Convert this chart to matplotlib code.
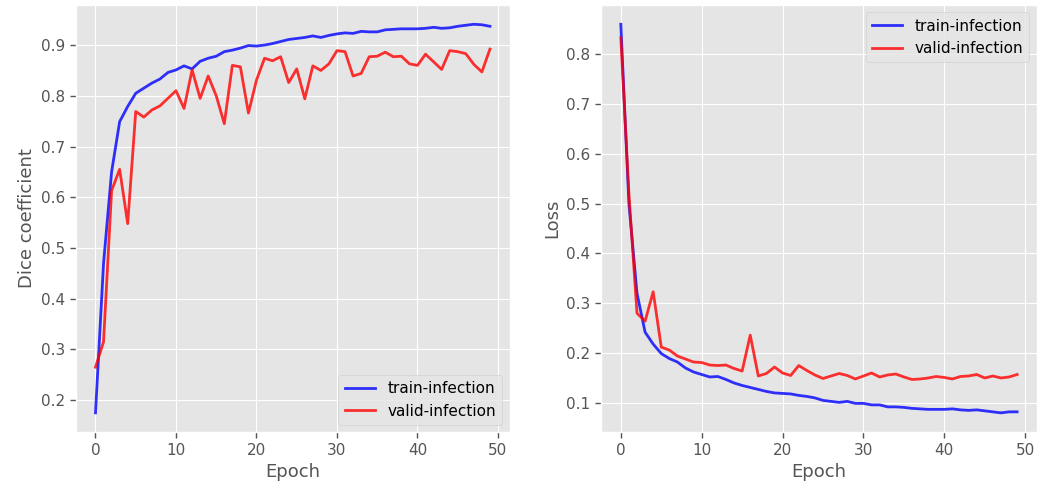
import numpy as np
import matplotlib
matplotlib.use("Agg")
import matplotlib.pyplot as plt

epochs = list(range(50))

train_dice = [0.175, 0.47, 0.65, 0.749, 0.779, 0.805, 0.815, 0.825, 0.833, 0.846,
              0.851, 0.859, 0.853, 0.868, 0.874, 0.878, 0.887, 0.890, 0.894, 0.899,
              0.898, 0.900, 0.903, 0.907, 0.911, 0.913, 0.915, 0.918, 0.915, 0.919,
              0.922, 0.924, 0.923, 0.927, 0.926, 0.926, 0.930, 0.931, 0.932, 0.932,
              0.932, 0.933, 0.935, 0.933, 0.934, 0.937, 0.939, 0.941, 0.940, 0.937]
valid_dice = [0.265, 0.315, 0.613, 0.655, 0.548, 0.769, 0.758, 0.772, 0.780, 0.795,
              0.810, 0.775, 0.851, 0.795, 0.839, 0.800, 0.745, 0.860, 0.857, 0.766,
              0.831, 0.874, 0.869, 0.877, 0.826, 0.853, 0.794, 0.859, 0.850, 0.863,
              0.889, 0.887, 0.839, 0.844, 0.877, 0.878, 0.886, 0.877, 0.878, 0.863,
              0.860, 0.882, 0.867, 0.852, 0.889, 0.887, 0.883, 0.862, 0.847, 0.892]

train_loss = [0.860, 0.500, 0.320, 0.242, 0.218, 0.199, 0.189, 0.182, 0.170, 0.162,
              0.157, 0.152, 0.153, 0.147, 0.140, 0.135, 0.131, 0.127, 0.123, 0.120,
              0.119, 0.118, 0.115, 0.113, 0.110, 0.105, 0.103, 0.101, 0.103, 0.099,
              0.099, 0.096, 0.096, 0.092, 0.092, 0.091, 0.089, 0.088, 0.087, 0.087,
              0.087, 0.088, 0.086, 0.085, 0.086, 0.084, 0.082, 0.080, 0.082, 0.082]
valid_loss = [0.833, 0.520, 0.280, 0.264, 0.323, 0.212, 0.206, 0.194, 0.188, 0.182,
              0.181, 0.176, 0.175, 0.176, 0.169, 0.164, 0.236, 0.154, 0.159, 0.172,
              0.160, 0.155, 0.175, 0.165, 0.156, 0.149, 0.154, 0.159, 0.155, 0.148,
              0.154, 0.160, 0.152, 0.156, 0.158, 0.152, 0.147, 0.148, 0.150, 0.153,
              0.151, 0.148, 0.153, 0.154, 0.157, 0.150, 0.154, 0.150, 0.152, 0.157]

plt.style.use("ggplot")
fig = plt.figure(figsize=(10.38, 4.83), dpi=100)

ax1 = fig.add_axes([0.073, 0.105, 0.418, 0.885])
ax1.plot(epochs, train_dice, color="b", alpha=0.8, lw=2, label="train-infection")
ax1.plot(epochs, valid_dice, color="r", alpha=0.8, lw=2, label="valid-infection")
ax1.set_xlabel("Epoch", fontsize=13)
ax1.set_ylabel("Dice coefficient", fontsize=13)
ax1.legend(loc="lower right", fontsize=11)

ax2 = fig.add_axes([0.579, 0.105, 0.420, 0.885])
ax2.plot(epochs, train_loss, color="b", alpha=0.8, lw=2, label="train-infection")
ax2.plot(epochs, valid_loss, color="r", alpha=0.8, lw=2, label="valid-infection")
ax2.set_xlabel("Epoch", fontsize=13)
ax2.set_ylabel("Loss", fontsize=13)
ax2.legend(loc="upper right", fontsize=11)

for ax in (ax1, ax2):
    ax.tick_params(labelsize=11, length=4, width=1, color="#555555", direction="out")

fig.savefig("out.png", dpi=100)
